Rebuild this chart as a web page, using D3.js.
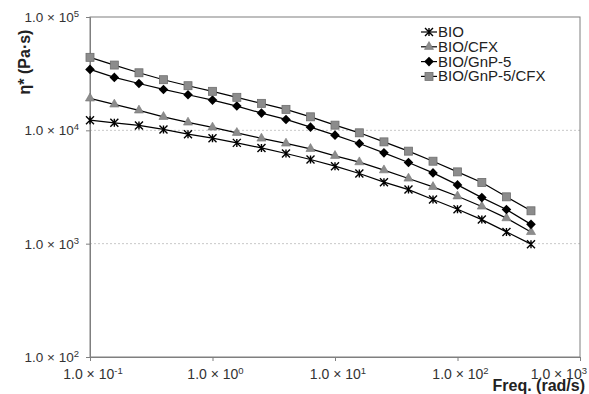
<!DOCTYPE html>
<html>
<head>
<meta charset="utf-8">
<script src="https://cdn.jsdelivr.net/npm/d3@7"></script>
<style>
  body { margin: 0; background: #fff; }
  svg { display: block; font-family: Arial, "Liberation Sans", sans-serif; }
</style>
</head>
<body>
<div id="chart"></div>
<script>
// ---- data ----
const freq = [0.1, 0.158, 0.251, 0.398, 0.631, 1, 1.58, 2.51, 3.98, 6.31,
              10, 15.8, 25.1, 39.8, 63.1, 100, 158, 251, 398];

const bio       = [12300, 11650, 11040, 10190, 9250, 8530, 7750, 7000, 6250, 5530,
                   4830, 4160, 3490, 3000, 2450, 2010, 1630, 1270, 990];
const bioCfx    = [19140, 16940, 15000, 13160, 11740, 10610, 9510, 8480, 7660, 6870,
                   5960, 5240, 4450, 3760, 3170, 2620, 2130, 1680, 1270];
const bioGnp    = [34500, 29300, 25900, 22950, 20600, 18490, 16370, 14190, 12480, 10670,
                   9070, 7660, 6330, 5200, 4210, 3300, 2550, 2000, 1480];
const bioGnpCfx = [44060, 37670, 32200, 27970, 24760, 22090, 19550, 17300, 15310, 13160,
                   11110, 9510, 7910, 6550, 5340, 4300, 3470, 2590, 1950];

const seriesNames = ["BIO", "BIO/CFX", "BIO/GnP-5", "BIO/GnP-5/CFX"];
const seriesValues = [bio, bioCfx, bioGnp, bioGnpCfx];
const markers = ["star", "triangle", "diamond", "square"];

const xTicks = [0.1, 1, 10, 100, 1000];
const xExp = ["-1", "0", "1", "2", "3"];
const yTicks = [100, 1000, 10000, 100000];
const yExp = ["2", "3", "4", "5"];

// ---- layout ----
const width = 589, height = 394;
const plotLeft = 90, plotRight = 580, plotTop = 17, plotBottom = 357;

const svg = d3.select("#chart").append("svg")
  .attr("width", width)
  .attr("height", height);

const x = d3.scaleLog().domain([0.1, 1000]).range([plotLeft, plotRight]);
const y = d3.scaleLog().domain([100, 100000]).range([plotBottom, plotTop]);

// gridlines (dotted, only inside the box)
svg.append("g")
  .selectAll("line")
  .data([1000, 10000])
  .enter().append("line")
  .attr("x1", plotLeft).attr("x2", plotRight)
  .attr("y1", d => y(d)).attr("y2", d => y(d))
  .attr("stroke", "#c8c8c8")
  .attr("stroke-width", 1)
  .attr("stroke-dasharray", "2,2");

// box
svg.append("rect")
  .attr("x", plotLeft).attr("y", plotTop)
  .attr("width", plotRight - plotLeft).attr("height", plotBottom - plotTop)
  .attr("fill", "none")
  .attr("stroke", "#7f7f7f")
  .attr("stroke-width", 1);

// axes (ticks only, labels drawn below with superscripts)
const xAxis = svg.append("g")
  .attr("transform", `translate(0,${plotBottom})`)
  .call(d3.axisBottom(x).tickValues(xTicks).tickFormat("").tickSizeOuter(0).tickSize(4));
const yAxis = svg.append("g")
  .attr("transform", `translate(${plotLeft},0)`)
  .call(d3.axisLeft(y).tickValues(yTicks).tickFormat("").tickSizeOuter(0).tickSize(4));
[xAxis, yAxis].forEach(a => {
  a.selectAll("path,line").attr("stroke", "#7f7f7f");
});

// tick labels "1.0 × 10^n"
function sciLabel(sel, exp) {
  sel.append("tspan").text("1.0 × 10");
  sel.append("tspan")
    .attr("dy", -5)
    .attr("font-size", 9.5)
    .text(exp);
}

svg.append("g").selectAll("text")
  .data(xTicks)
  .enter().append("text")
  .attr("x", (d, i) => i === xTicks.length - 1 ? 587 : x(d) + 3)
  .attr("y", plotBottom + 22)
  .attr("text-anchor", (d, i) => i === xTicks.length - 1 ? "end" : "middle")
  .attr("font-size", 14)
  .attr("fill", "#333")
  .each(function(d, i) { sciLabel(d3.select(this), xExp[i]); });

svg.append("g").selectAll("text")
  .data(yTicks)
  .enter().append("text")
  .attr("x", plotLeft - 11)
  .attr("y", d => y(d) + 5)
  .attr("text-anchor", "end")
  .attr("font-size", 13.5)
  .attr("fill", "#333")
  .each(function(d, i) { sciLabel(d3.select(this), yExp[i]); });

// axis titles
svg.append("text")
  .attr("transform", `translate(30,62) rotate(-90)`)
  .attr("text-anchor", "middle")
  .attr("font-size", 16)
  .attr("font-weight", "bold")
  .attr("fill", "#222")
  .text("η* (Pa·s)");

svg.append("text")
  .attr("x", 585)
  .attr("y", 391)
  .attr("text-anchor", "end")
  .attr("font-size", 16)
  .attr("font-weight", "bold")
  .attr("fill", "#222")
  .text("Freq. (rad/s)");

// ---- markers ----
function drawMarker(g, type, cx, cy) {
  if (type === "star") {
    const r = 4;
    g.append("path")
      .attr("d", `M${cx - r},${cy - r}L${cx + r},${cy + r}M${cx - r},${cy + r}L${cx + r},${cy - r}M${cx},${cy - r}L${cx},${cy + r}`)
      .attr("stroke", "#000")
      .attr("stroke-width", 1.4)
      .attr("fill", "none");
  } else if (type === "triangle") {
    g.append("path")
      .attr("d", d3.symbol().type(d3.symbolTriangle).size(36)())
      .attr("transform", `translate(${cx},${cy})`)
      .attr("fill", "#8c8c8c")
      .attr("stroke", "#777")
      .attr("stroke-width", 0.6);
  } else if (type === "diamond") {
    const r = 4.8;
    g.append("path")
      .attr("d", `M${cx},${cy - r}L${cx + r},${cy}L${cx},${cy + r}L${cx - r},${cy}Z`)
      .attr("fill", "#000");
  } else {
    g.append("rect")
      .attr("x", cx - 4).attr("y", cy - 4)
      .attr("width", 8).attr("height", 8)
      .attr("fill", "#8c8c8c")
      .attr("stroke", "#6e6e6e")
      .attr("stroke-width", 0.8);
  }
}

// ---- series ----
const line = d3.line()
  .x((d, i) => x(freq[i]))
  .y(d => y(d));

seriesValues.forEach((vals, s) => {
  const g = svg.append("g");
  g.append("path")
    .datum(vals)
    .attr("d", line)
    .attr("fill", "none")
    .attr("stroke", "#000")
    .attr("stroke-width", 1.2);
  vals.forEach((v, i) => drawMarker(g, markers[s], x(freq[i]), y(v)));
});

// ---- legend ----
const legend = svg.append("g");
seriesNames.forEach((name, i) => {
  const ly = 32 + i * 14.8;
  legend.append("line")
    .attr("x1", 421).attr("x2", 437)
    .attr("y1", ly).attr("y2", ly)
    .attr("stroke", "#000")
    .attr("stroke-width", 1.2);
  drawMarker(legend, markers[i], 429, ly);
  legend.append("text")
    .attr("x", 438)
    .attr("y", ly + 5)
    .attr("font-size", 15)
    .attr("fill", "#222")
    .text(name);
});
</script>
</body>
</html>
